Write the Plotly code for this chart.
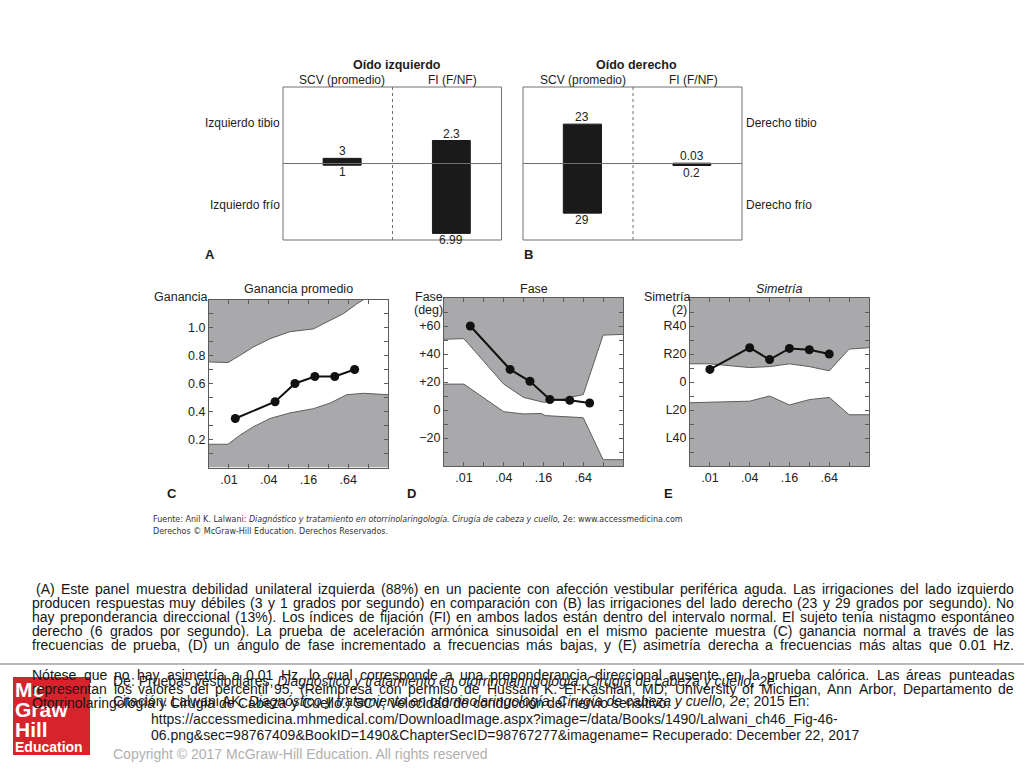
import math
import plotly.graph_objects as go

FONT = "Liberation Sans, Arial, Helvetica, sans-serif"
GRAY = "#a9a9ab"
EDGE = "#5c5c5c"
INK = "#1c1c1c"

# ---------------- data: caloric test (panels A, B) ----------------
ear_titles = ["Oído izquierdo", "Oído derecho"]
col_titles = ["SCV (promedio)", "FI (F/NF)"]
left_rows = ["Izquierdo tibio", "Izquierdo frío"]
right_rows = ["Derecho tibio", "Derecho frío"]
left_scv = [3, 1]        # [tibio, frío]
left_fi = [2.3, 6.99]
right_scv = [23, 29]
right_fi = [0.03, 0.2]
scv_limit = 44.7
fi_limit = 7.65

# ---------------- data: sinusoidal harmonic acceleration (C, D, E) ----------------
freq_ticks = [0.005, 0.01, 0.02, 0.04, 0.08, 0.16, 0.32, 0.64, 1.28, 2.56]
freq_ticktext = ["", ".01", "", ".04", "", ".16", "", ".64", "", ""]

freq_gain = [0.0125, 0.05, 0.1, 0.2, 0.4, 0.8]
gain = [0.35, 0.47, 0.60, 0.65, 0.65, 0.70]
gain_up_f = [0.005, 0.0097, 0.0146, 0.0233, 0.042, 0.084, 0.19, 0.305, 0.546, 0.87, 1.1]
gain_up = [0.754, 0.75, 0.80, 0.86, 0.92, 0.97, 0.99, 1.04, 1.10, 1.17, 1.2]
gain_lo_f = [0.005, 0.0097, 0.0146, 0.0233, 0.042, 0.084, 0.19, 0.34, 0.61, 1.1, 2.56]
gain_lo = [0.166, 0.166, 0.23, 0.29, 0.35, 0.39, 0.42, 0.46, 0.52, 0.53, 0.52]
gain_range = [0, 1.2]
gain_ticks = [0.1, 0.2, 0.3, 0.4, 0.5, 0.6, 0.7, 0.8, 0.9, 1.0, 1.1]
gain_ticktext = ["", "0.2", "", "0.4", "", "0.6", "", "0.8", "", "1.0", ""]

freq_phase = [0.0125, 0.05, 0.1, 0.2, 0.4, 0.8]
phase = [60, 29, 20.5, 7.5, 7, 5]
phase_up_f = [0.005, 0.01, 0.04, 0.08, 0.16, 0.2, 0.64, 1.28, 2.56]
phase_up = [50.5, 51, 18.5, 9, 5.5, 6, 11, 53.5, 54]
phase_lo_f = [0.005, 0.01, 0.04, 0.08, 0.15, 0.17, 0.64, 1.28, 2.56]
phase_lo = [18.5, 18.5, -1.2, -2.8, -2.5, -4, -5.5, -35.5, -35.5]
phase_range = [-40, 80]
phase_ticks = [-30, -20, -10, 0, 10, 20, 30, 40, 50, 60, 70]
phase_ticktext = ["", "\u221220", "", "0", "", "+20", "", "+40", "", "+60", ""]

freq_sym = [0.01, 0.04, 0.08, 0.16, 0.32, 0.64]
symmetry = [9, 24.5, 16, 24, 23, 20]
sym_f = [0.005, 0.01, 0.04, 0.08, 0.16, 0.32, 0.64, 1.28, 2.56]
sym_up = [13, 13, 10.3, 11, 13, 11, 8, 23.5, 24.5]
sym_lo = [-14.8, -14.6, -13.7, -10, -16.4, -12.6, -11, -23.4, -23.4]
sym_range = [-60, 60]
sym_ticks = [-50, -40, -30, -20, -10, 0, 10, 20, 30, 40, 50]
sym_ticktext = ["", "L40", "", "L20", "", "0", "", "R20", "", "R40", ""]

# ---------------- text ----------------
source_lines = [
    "Fuente: Anil K. Lalwani: <i>Diagnóstico y tratamiento en otorrinolaringología. Cirugía de cabeza y cuello,</i> 2e: www.accessmedicina.com",
    "Derechos © McGraw-Hill Education. Derechos Reservados.",
]
caption_lines = [
    "(A) Este panel muestra debilidad unilateral izquierda (88%) en un paciente con afección vestibular periférica aguda. Las irrigaciones del lado izquierdo",
    "producen respuestas muy débiles (3 y 1 grados por segundo) en comparación con (B) las irrigaciones del lado derecho (23 y 29 grados por segundo). No",
    "hay preponderancia direccional (13%). Los índices de fijación (FI) en ambos lados están dentro del intervalo normal. El sujeto tenía nistagmo espontáneo",
    "derecho (6 grados por segundo). La prueba de aceleración armónica sinusoidal en el mismo paciente muestra (C) ganancia normal a través de las",
    "frecuencias de prueba, (D) un ángulo de fase incrementado a frecuencias más bajas, y (E) asimetría derecha a frecuencias más altas que 0.01 Hz.",
    "Nótese que no hay asimetría a 0.01 Hz, lo cual corresponde a una preponderancia direccional ausente en la prueba calórica. Las áreas punteadas",
    "representan los valores del percentil 95. (Reimpresa con permiso de Hussam K. El-Kashlan, MD; University of Michigan, Ann Arbor, Departamento de",
    "Otorrinolaringología y Cirugía de Cabeza y Cuello.) SCV, velocidad de conducción del nervio sensitivo.",
]
caption_y = [588.5, 602.7, 617.0, 631.2, 645.4, 674.5, 688.7, 703.0]
credit_lines = [
    ("De: Pruebas vestibulares, <i>Diagnóstico y tratamiento en otorrinolaringología. Cirugía de cabeza y cuello, 2e</i>", 113, 681),
    ("Citación: Lalwani AK. <i>Diagnóstico y tratamiento en otorrinolaringología. Cirugía de cabeza y cuello, 2e</i>; 2015 En:", 113, 701),
    ("https://accessmedicina.mhmedical.com/DownloadImage.aspx?image=/data/Books/1490/Lalwani_ch46_Fig-46-", 151, 719),
    ("06.png&sec=98767409&BookID=1490&ChapterSecID=98767277&imagename= Recuperado: December 22, 2017", 151, 735),
]
copyright_text = "Copyright © 2017 McGraw-Hill Education. All rights reserved"
logo_words = ["Mc", "Graw", "Hill", "Education"]

# ---------------- helpers ----------------
W_PX, H_PX = 1024, 768


def X(px):
    return px / W_PX


def Y(py):
    return 1 - py / H_PX


# Arial / Helvetica advance widths (1/1000 em) for justifying the caption
CW = {" ": 278, "!": 278, "%": 889, "(": 333, ")": 333, ",": 278, "-": 333, ".": 278,
      "/": 278, ":": 278, ";": 278, "?": 556, "©": 737}
for ch in "0123456789":
    CW[ch] = 556
for ch, w in zip("ABCDEFGHIJKLMNOPQRSTUVWXYZ",
                 [667, 667, 722, 722, 667, 611, 778, 722, 278, 500, 667, 556, 833,
                  722, 778, 667, 778, 722, 667, 611, 722, 667, 944, 667, 667, 611]):
    CW[ch] = w
for ch, w in zip("abcdefghijklmnopqrstuvwxyz",
                 [556, 556, 500, 556, 556, 278, 556, 556, 222, 222, 500, 222, 833,
                  556, 556, 556, 556, 333, 500, 278, 556, 500, 722, 500, 500, 500]):
    CW[ch] = w
CW.update({"á": 556, "é": 556, "í": 278, "ó": 556, "ú": 556, "ñ": 556, "Ó": 778})


def text_width(s, size):
    return sum(CW.get(c, 556) for c in s) / 1000.0 * size


annotations = []


def txt(x, y, text, size=12, xanchor="center", yanchor="middle", color=INK,
        family=FONT, xref="paper", yref="paper"):
    annotations.append(dict(
        x=X(x) if xref == "paper" else x, y=Y(y) if yref == "paper" else y,
        xref=xref, yref=yref, text=text, showarrow=False,
        xanchor=xanchor, yanchor=yanchor, borderpad=0, borderwidth=0,
        font=dict(family=family, size=size, color=color)))


fig = go.Figure()
layout_axes = {}
shapes = []

# ---------------- panels A and B ----------------
cal_cols = [
    (left_scv, (283, 392.5), scv_limit),
    (left_fi, (392.5, 501.5), fi_limit),
    (right_scv, (523, 633), scv_limit),
    (right_fi, (633, 742), fi_limit),
]
for i, (vals, (x0, x1), lim) in enumerate(cal_cols, start=1):
    xa = "x" if i == 1 else f"x{i}"
    ya = "y" if i == 1 else f"y{i}"
    warm, cold = vals
    for v in (warm, -cold):
        fig.add_trace(go.Bar(
            x=[0], y=[v], width=0.347, xaxis=xa, yaxis=ya,
            marker=dict(color="#1a1a1a", line=dict(color="#1a1a1a", width=1)),
            hoverinfo="skip", showlegend=False))
    layout_axes["xaxis" if i == 1 else f"xaxis{i}"] = dict(
        domain=[X(x0), X(x1)], range=[-0.54, 0.46], visible=False, anchor=ya, fixedrange=True)
    layout_axes["yaxis" if i == 1 else f"yaxis{i}"] = dict(
        domain=[Y(240), Y(87)], range=[-lim, lim], visible=False, anchor=xa, fixedrange=True)
    txt(0, warm, f"{warm:g}", size=12, yanchor="bottom", xref=xa, yref=ya, color="#222")
    txt(0, -cold, f"{cold:g}", size=12, yanchor="top", xref=xa, yref=ya, color="#222")

BOX = "#707070"
for (bx0, bx1, dash_x) in [(283, 501.5, 392.5), (523, 742, 633)]:
    shapes.append(dict(type="rect", xref="paper", yref="paper", x0=X(bx0), x1=X(bx1),
                       y0=Y(240), y1=Y(87), line=dict(color=BOX, width=1)))
    shapes.append(dict(type="line", xref="paper", yref="paper", x0=X(dash_x), x1=X(dash_x),
                       y0=Y(240), y1=Y(87), line=dict(color=BOX, width=1, dash="3px,3px")))
    shapes.append(dict(type="line", xref="paper", yref="paper", x0=X(bx0), x1=X(bx1),
                       y0=Y(163.5), y1=Y(163.5), line=dict(color=BOX, width=1)))

txt(397, 65, f"<b>{ear_titles[0]}</b>", size=12.5)
txt(342, 79.5, col_titles[0], size=12)
txt(452.5, 79.5, col_titles[1], size=12)
txt(636, 65, f"<b>{ear_titles[1]}</b>", size=12.5)
txt(583, 79.5, col_titles[0], size=12)
txt(693.5, 79.5, col_titles[1], size=12)
txt(280, 123, left_rows[0], size=12, xanchor="right")
txt(280, 205, left_rows[1], size=12, xanchor="right")
txt(746, 123, right_rows[0], size=12, xanchor="left")
txt(746, 205, right_rows[1], size=12, xanchor="left")
txt(210, 254, "<b>A</b>", size=13)
txt(528, 254, "<b>B</b>", size=13)

# ---------------- panels C, D, E ----------------
sha_panels = [
    dict(i=5, xpx=(209, 388), ypx=(299.5, 467.5), yr=gain_range, tv=gain_ticks, tt=gain_ticktext,
         uf=gain_up_f, u=gain_up, lf=gain_lo_f, l=gain_lo, f=freq_gain, v=gain),
    dict(i=6, xpx=(444, 623), ypx=(298, 466), yr=phase_range, tv=phase_ticks, tt=phase_ticktext,
         uf=phase_up_f, u=phase_up, lf=phase_lo_f, l=phase_lo, f=freq_phase, v=phase),
    dict(i=7, xpx=(690, 869), ypx=(298, 466), yr=sym_range, tv=sym_ticks, tt=sym_ticktext,
         uf=sym_f, u=sym_up, lf=sym_f, l=sym_lo, f=freq_sym, v=symmetry),
]
for p in sha_panels:
    i = p["i"]
    xa, ya = f"x{i}", f"y{i}"
    lo_y, hi_y = p["yr"]
    # upper and lower shaded (abnormal) regions
    fig.add_trace(go.Scatter(x=p["uf"] + [p["uf"][-1], p["uf"][0]], y=p["u"] + [hi_y, hi_y],
                             fill="toself", fillcolor=GRAY, mode="lines", line=dict(width=0),
                             xaxis=xa, yaxis=ya, hoverinfo="skip", showlegend=False))
    fig.add_trace(go.Scatter(x=p["lf"] + [p["lf"][-1], p["lf"][0]], y=p["l"] + [lo_y, lo_y],
                             fill="toself", fillcolor=GRAY, mode="lines", line=dict(width=0),
                             xaxis=xa, yaxis=ya, hoverinfo="skip", showlegend=False))
    for bx, by in ((p["uf"], p["u"]), (p["lf"], p["l"])):
        fig.add_trace(go.Scatter(x=bx, y=by, mode="lines", line=dict(color=EDGE, width=1),
                                 xaxis=xa, yaxis=ya, hoverinfo="skip", showlegend=False))
    fig.add_trace(go.Scatter(x=p["f"], y=p["v"], mode="lines+markers",
                             line=dict(color="#111", width=2),
                             marker=dict(color="#111", size=9),
                             xaxis=xa, yaxis=ya, showlegend=False))
    common = dict(showline=True, linecolor=EDGE, linewidth=1, mirror="allticks",
                  ticks="inside", ticklen=4, tickwidth=1, tickcolor=EDGE,
                  showgrid=False, zeroline=False, fixedrange=True,
                  tickfont=dict(family=FONT, size=12.5, color="#222"))
    layout_axes[f"xaxis{i}"] = dict(
        common, type="log", domain=[X(p["xpx"][0]), X(p["xpx"][1])],
        range=[math.log10(freq_ticks[0]), math.log10(freq_ticks[-1])],
        tickmode="array", tickvals=freq_ticks, ticktext=freq_ticktext, anchor=ya)
    layout_axes[f"yaxis{i}"] = dict(
        common, domain=[Y(p["ypx"][1]), Y(p["ypx"][0])], range=p["yr"],
        tickmode="array", tickvals=p["tv"], ticktext=p["tt"], anchor=xa)

txt(298.5, 289, "Ganancia promedio", size=12.5)
txt(208, 297, "Ganancia", size=12.5, xanchor="right")
txt(533.5, 289, "Fase", size=12.5)
txt(443, 297, "Fase", size=12.5, xanchor="right")
txt(443, 310, "(deg)", size=12.5, xanchor="right")
txt(779, 289, "<i>Simetría</i>", size=12.5)
txt(691, 297, "Simetría", size=12.5, xanchor="right")
txt(687, 310, "(2)", size=12.5, xanchor="right")
txt(172, 493, "<b>C</b>", size=13)
txt(411, 493, "<b>D</b>", size=13)
txt(668, 493, "<b>E</b>", size=13)

# source
txt(153, 519, source_lines[0], size=8, xanchor="left", family="DejaVu Sans, Verdana, sans-serif", color="#333")
txt(153, 531, source_lines[1], size=8, xanchor="left", family="DejaVu Sans, Verdana, sans-serif", color="#333")

# ---------------- slide footer ----------------
shapes.append(dict(type="line", xref="paper", yref="paper", x0=0, x1=1, y0=Y(664), y1=Y(664),
                   line=dict(color="#a3a3a3", width=1.5)))
shapes.append(dict(type="rect", xref="paper", yref="paper", x0=X(13), x1=X(90),
                   y0=Y(755), y1=Y(677), fillcolor="#d7232b", line=dict(width=0), layer="below"))
txt(15, 689, f"<b>{logo_words[0]}</b>", size=21, xanchor="left", color="white")
txt(15, 709, f"<b>{logo_words[1]}</b>", size=21, xanchor="left", color="white")
txt(15, 729, f"<b>{logo_words[2]}</b>", size=21, xanchor="left", color="white")
txt(15, 747, f"<b>{logo_words[3]}</b>", size=14, xanchor="left", color="white")

CAP_SIZE = 14
CAP_RIGHT = 1014
for k, (line, yy) in enumerate(zip(caption_lines, caption_y)):
    words = line.split(" ")
    x_start = 36 if k == 0 else 32.3
    widths = [text_width(w, CAP_SIZE) for w in words]
    if k < len(caption_lines) - 1 and len(words) > 1:
        gap = (CAP_RIGHT - x_start - sum(widths)) / (len(words) - 1)
        gap = max(gap, 0.6 * text_width(" ", CAP_SIZE))
    else:
        gap = text_width(" ", CAP_SIZE)
    xx = x_start
    for w, wd in zip(words, widths):
        txt(xx, yy, w, size=CAP_SIZE, xanchor="left", color="#151515")
        xx += wd + gap

for text, cx, cy in credit_lines:
    txt(cx, cy, text, size=14, xanchor="left", color="#1a1a1a")
txt(113, 753.5, copyright_text, size=14, xanchor="left", color="#b0b0b0")

fig.update_layout(
    width=W_PX, height=H_PX, margin=dict(l=0, r=0, t=0, b=0),
    paper_bgcolor="white", plot_bgcolor="rgba(0,0,0,0)",
    barmode="overlay", showlegend=False,
    annotations=annotations, shapes=shapes,
    font=dict(family=FONT, color=INK),
    **layout_axes,
)

fig.write_html("out.html", config={"displayModeBar": False},
               post_script="document.body.style.margin='0px';document.body.style.overflow='hidden';")
